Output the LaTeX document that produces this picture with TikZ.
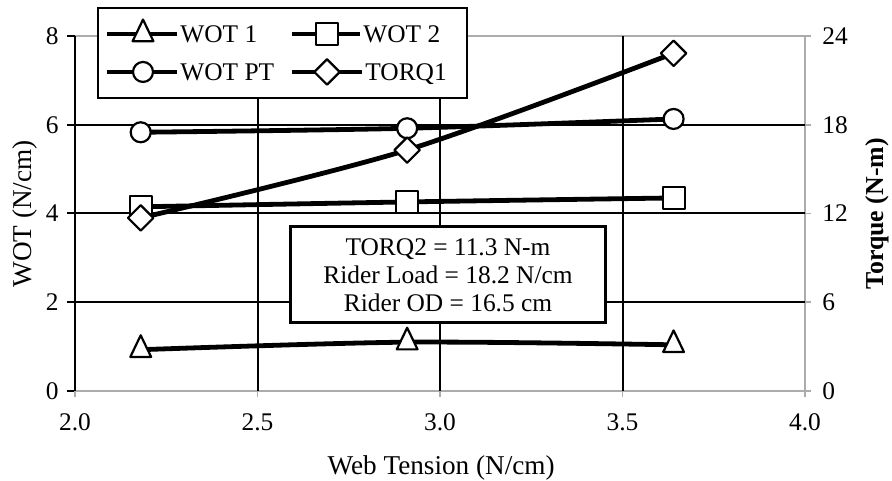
\documentclass[tikz,border=0pt]{standalone}
\usepackage{fontspec}
\setmainfont{Liberation Serif}
\usetikzlibrary{calc,plotmarks}

\tikzset{
  lbl/.style={font=\fontsize{12.7pt}{14pt}\selectfont, inner sep=0pt},
  ttl/.style={font=\fontsize{13.6pt}{15pt}\selectfont, inner sep=0pt},
  ttlbold/.style={font=\fontsize{12.9pt}{15pt}\selectfont\bfseries, inner sep=0pt},
  gridline/.style={line width=1pt},
  frameline/.style={gray!65, line width=0.8pt},
  series/.style={line width=2.4pt, line join=round},
  wotone/.style={series, mark=triangle*, mark size=6pt,
    mark options={solid, fill=white, line width=1.1pt, yscale=1.2}},
  wottwo/.style={series, mark=square*, mark size=5.5pt,
    mark options={solid, fill=white, line width=1.1pt}},
  wotpt/.style={series, mark=*, mark size=5pt,
    mark options={solid, fill=white, line width=1.1pt}},
  torqone/.style={series, mark=square*, mark size=4.5pt,
    mark options={solid, fill=white, line width=1.1pt, rotate=45}},
}

\begin{document}
\begin{tikzpicture}[x=182.5pt, y=22.1875pt]
    \useasboundingbox (1.7945,-2.028) rectangle (4.2384,8.811);

    % frame and grid
    \coordinate (O) at (2,0);
    \coordinate (R) at (4,0);
    \coordinate (T) at (2,8);
    \coordinate (TR) at (4,8);
    \draw[frameline] (T)--(TR)--(R)--(O);
    \foreach \v in {2.5,3.0,3.5}
      \draw[gridline] (\v,0)--(\v,8);
    \foreach \w in {2,4,6}
      \draw[gridline] (2,\w)--(4,\w);
    \draw[gridline] (O)--(T);

    % ticks and tick labels
    \foreach \w in {0,2,...,8}{
      \draw[line width=1pt] (2,\w)--++(-4pt,0);
      \node[lbl, anchor=east, xshift=-8pt] (tl\w) at (2,\w) {\w};
    }
    \foreach \t in {0,6,...,24}{
      \draw[frameline] (4,\t/3)--++(3pt,0);
      \node[lbl, anchor=west, xshift=8.5pt] (tr\t) at (4,\t/3) {\t};
    }
    \foreach \v [count=\i] in {2.0,2.5,3.0,3.5,4.0}{
      \draw[frameline] (\v,0)--++(0,-3pt);
      \node[lbl, anchor=north, yshift=-11pt] (tb\i) at (\v,0) {\v};
    }

    % axis titles
    \node[ttl, rotate=90] (ytitle) at (1.863,3.99) {WOT (N/cm)};
    \node[ttlbold, rotate=90] (ttitle) at (4.197,3.99) {Torque (N-m)};
    \node[ttl] (xtitle) at (3.003,-1.735) {Web Tension (N/cm)};

    % data
    \draw[wotone] plot[smooth] coordinates {(2.18,0.93) (2.91,1.10) (3.64,1.04)};
    \draw[wottwo] plot[smooth] coordinates {(2.18,4.15) (2.91,4.26) (3.64,4.35)};
    \draw[wotpt] plot[smooth] coordinates {(2.18,5.83) (2.91,5.92) (3.64,6.13)};
    \draw[torqone] plot[smooth] coordinates {(2.18,3.90) (2.91,5.43) (3.64,7.61)};

    % legend
    \node[draw, fill=white, line width=1pt, minimum width=184.5pt,
      minimum height=45pt, inner sep=0pt] (legend) at (2.5685,7.617) {};
    \coordinate (LA) at (2.0877,8.045);
    \coordinate (LB) at (2.0877,7.189);
    \coordinate (LC) at (2.5945,8.045);
    \coordinate (LD) at (2.5945,7.189);
    \draw[series] (LA)--++(0.1918,0);
    \path[wotone] plot[only marks] coordinates {($(LA)+(0.0986,0)$)};
    \node[lbl, anchor=base west, yshift=-4.2pt] (lwotone) at ($(LA)+(0.2,0)$) {WOT 1};
    \draw[series] (LB)--++(0.1918,0);
    \path[wotpt] plot[only marks] coordinates {($(LB)+(0.0986,0)$)};
    \node[lbl, anchor=base west, yshift=-4.2pt] (lwotpt) at ($(LB)+(0.2,0)$) {WOT PT};
    \draw[series] (LC)--++(0.1863,0);
    \path[wottwo] plot[only marks] coordinates {($(LC)+(0.0959,0)$)};
    \node[lbl, anchor=base west, yshift=-4.2pt] (lwottwo) at ($(LC)+(0.1945,0)$) {WOT 2};
    \draw[series] (LD)--++(0.1918,0);
    \path[torqone] plot[only marks] coordinates {($(LD)+(0.0959,0)$)};
    \node[lbl, anchor=base west, yshift=-4.2pt] (ltorqone) at ($(LD)+(0.2,0)$) {TORQ1};

    % notes box
    \node[lbl, draw, fill=white, line width=1.5pt, minimum width=158pt,
      minimum height=48pt, align=center] (notes) at (3.0219,2.614)
      {TORQ2 = 11.3 N-m\\ Rider Load = 18.2 N/cm\\ Rider OD = 16.5 cm};
\end{tikzpicture}
\end{document}
